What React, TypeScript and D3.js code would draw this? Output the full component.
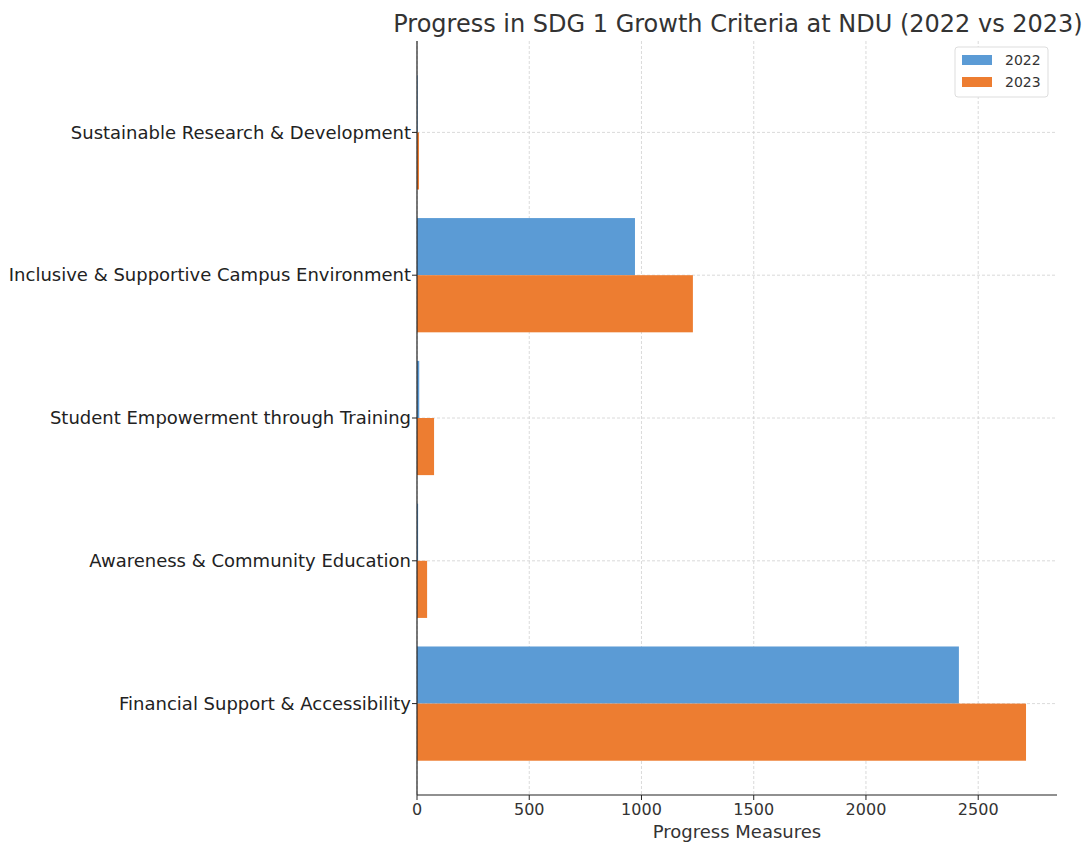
import React from "react";
import * as d3 from "d3";

const categories = [
  "Financial Support & Accessibility",
  "Awareness & Community Education",
  "Student Empowerment through Training",
  "Inclusive & Supportive Campus Environment",
  "Sustainable Research & Development",
];
const values2022 = [2414, 5, 10, 971, 3];
const values2023 = [2713, 45, 76, 1229, 9];
const seriesNames = ["2022", "2023"];
const xTicks = [0, 500, 1000, 1500, 2000, 2500];
const colors = ["#5b9bd5", "#ed7d31"];

const W = 1090, H = 843;
const left = 417, right = 1057, top = 41, bottom = 795;
const font = "DejaVu Sans, sans-serif";

export default function App() {
  const x = d3.scaleLinear().domain([0, 2851]).range([left, right]);
  const y = d3.scaleLinear().domain([-0.64, 4.64]).range([bottom, top]);
  const unit = Math.abs(y(1) - y(0));
  const bh = 0.4 * unit;
  const series = [values2022, values2023];
  return (
    <svg width={W} height={H} style={{ position: "absolute", left: 0, top: 0, background: "#fff" }}>
      <text x={738} y={32} textAnchor="middle" fontFamily={font} fontSize={24} fill="#333">
        Progress in SDG 1 Growth Criteria at NDU (2022 vs 2023)
      </text>
      {xTicks.map((t) => (
        <line key={"gx" + t} x1={x(t)} x2={x(t)} y1={top} y2={bottom} stroke="#d0d0d0" strokeWidth={0.8} strokeDasharray="3,2" />
      ))}
      {categories.map((c, i) => (
        <line key={"gy" + i} x1={left} x2={right} y1={y(i)} y2={y(i)} stroke="#d0d0d0" strokeWidth={0.8} strokeDasharray="3,2" />
      ))}
      {series.map((vals, s) =>
        vals.map((v, i) => (
          <rect key={s + "-" + i} x={x(0)} y={y(i) - bh + s * bh} width={x(v) - x(0)} height={bh} fill={colors[s]} />
        ))
      )}
      <line x1={left} x2={left} y1={top} y2={bottom} stroke="#222" strokeWidth={1.2} />
      <line x1={left} x2={right} y1={bottom} y2={bottom} stroke="#222" strokeWidth={1.2} />
      {xTicks.map((t) => (
        <g key={"tx" + t}>
          <line x1={x(t)} x2={x(t)} y1={bottom} y2={bottom + 5} stroke="#222" />
          <text x={x(t)} y={bottom + 20} textAnchor="middle" fontFamily={font} fontSize={16} fill="#333">{t}</text>
        </g>
      ))}
      {categories.map((c, i) => (
        <g key={"ty" + i}>
          <line x1={left - 5} x2={left} y1={y(i)} y2={y(i)} stroke="#222" />
          <text x={left - 6} y={y(i)} dy="0.35em" textAnchor="end" fontFamily={font} fontSize={18} fill="#222">{c}</text>
        </g>
      ))}
      <text x={(left + right) / 2} y={838} textAnchor="middle" fontFamily={font} fontSize={18} fill="#333">Progress Measures</text>
      <g>
        <rect x={955} y={47} width={93} height={50} fill="#fff" stroke="#ddd" rx={3} />
        {seriesNames.map((n, s) => (
          <g key={n}>
            <rect x={962} y={55 + s * 22} width={30} height={10} fill={colors[s]} />
            <text x={1005} y={60 + s * 22} dy="0.35em" fontFamily={font} fontSize={14} fill="#333">{n}</text>
          </g>
        ))}
      </g>
    </svg>
  );
}
